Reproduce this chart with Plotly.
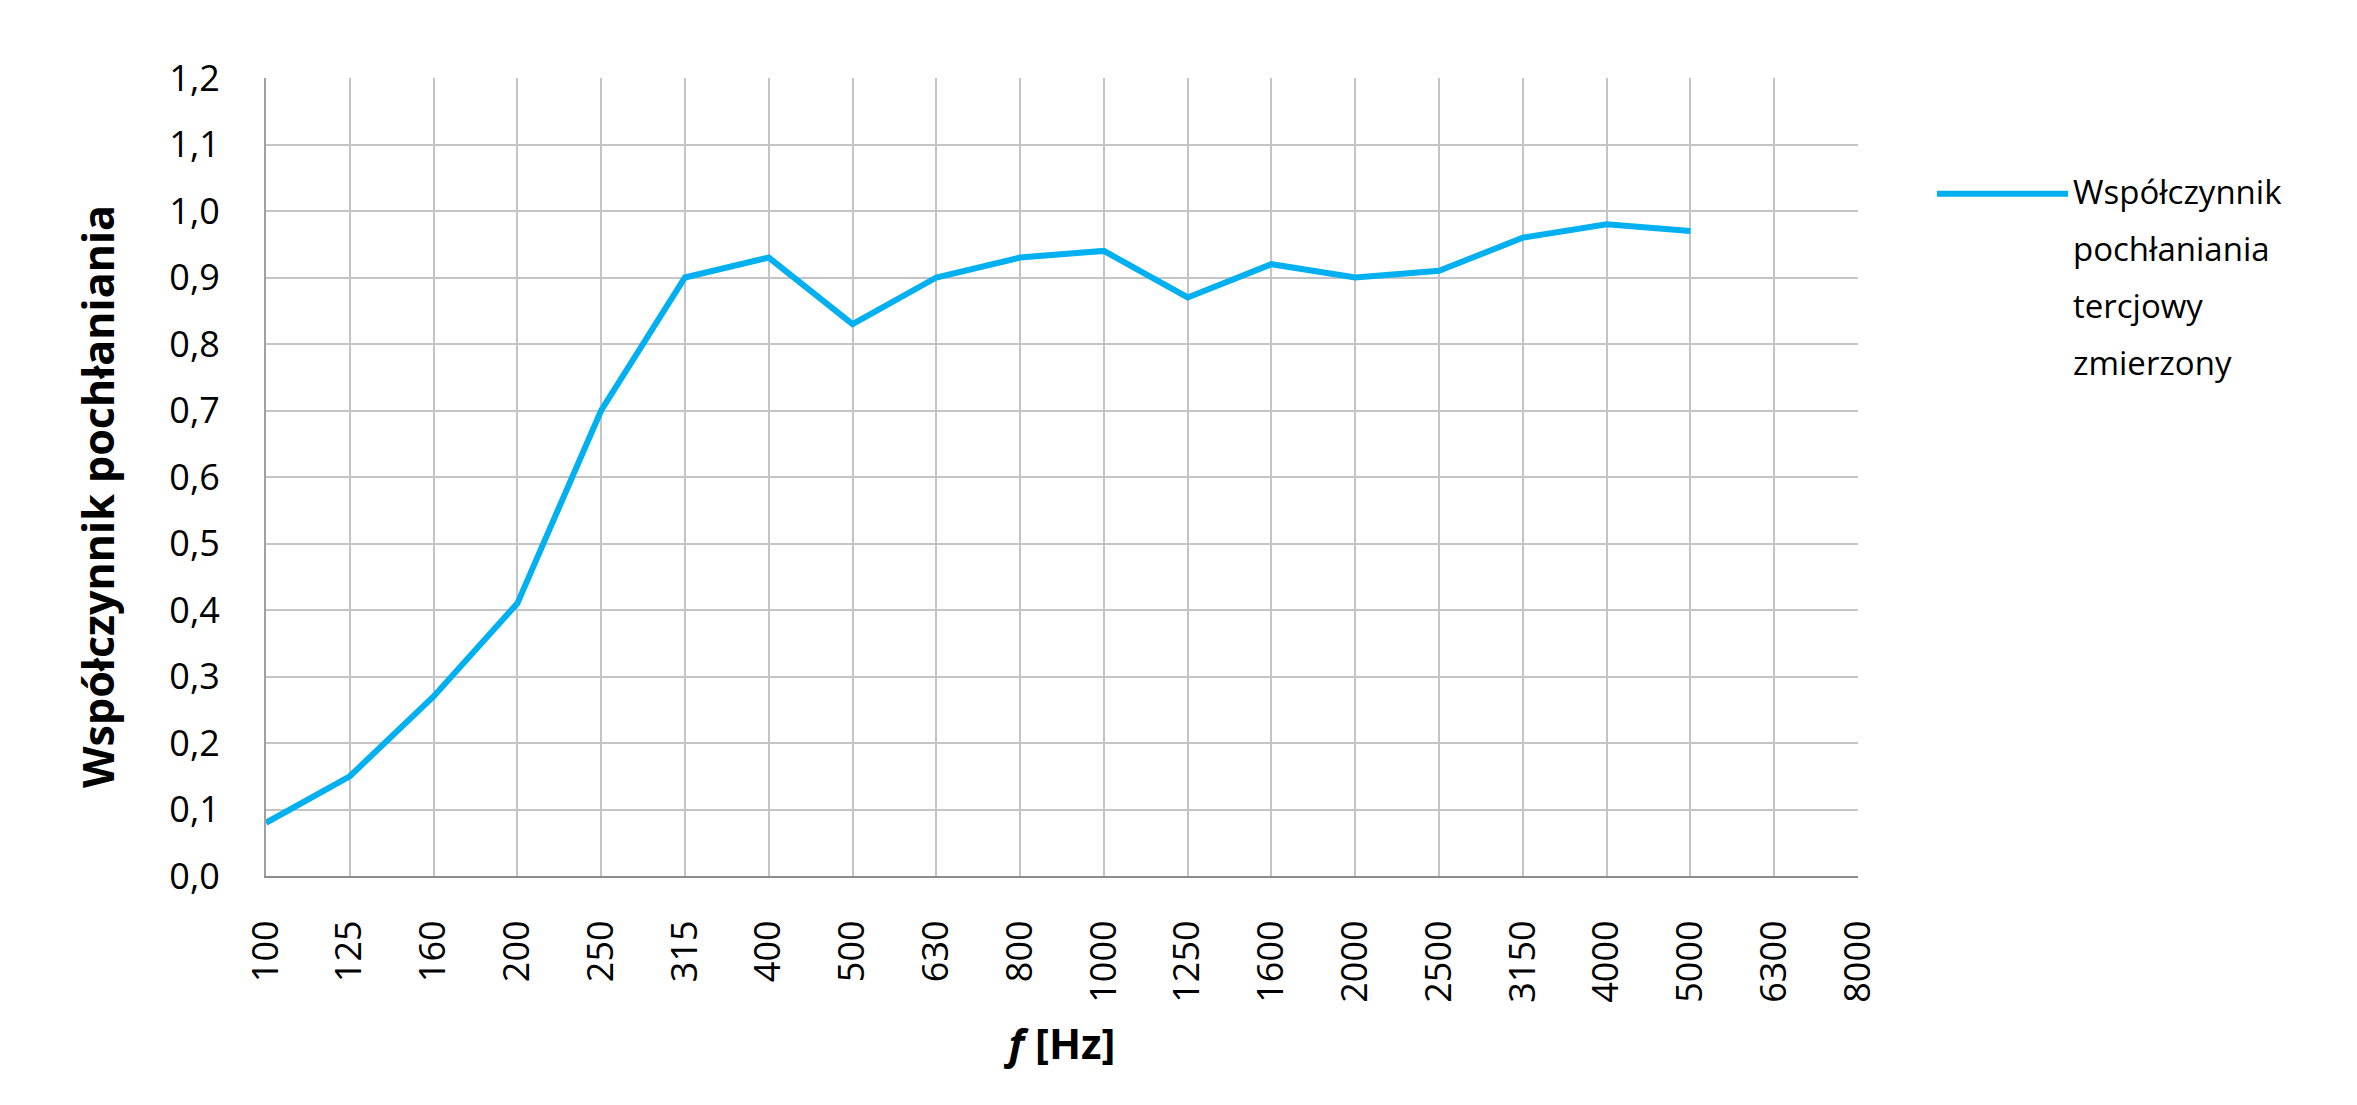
import plotly.graph_objects as go

freqs = ["100", "125", "160", "200", "250", "315", "400", "500", "630", "800",
         "1000", "1250", "1600", "2000", "2500", "3150", "4000", "5000", "6300", "8000"]
alpha = [0.08, 0.15, 0.27, 0.41, 0.70, 0.90, 0.93, 0.83, 0.90, 0.93,
         0.94, 0.87, 0.92, 0.90, 0.91, 0.96, 0.98, 0.97, None, None]
legend_lines = ["Współczynnik", "pochłaniania", "tercjowy", "zmierzony"]
y_title = "Współczynnik pochłaniania"
x_title = "<i>f</i> [Hz]"
y_ticks = [round(i * 0.1, 1) for i in range(13)]
y_ticktext = [f"{v:.1f}".replace(".", ",") for v in y_ticks]

FONT = "Open Sans"
LINE_COLOR = "#00B0F0"
TICK_SIZE = 36
fig = go.Figure()
fig.add_trace(go.Scatter(
    x=freqs, y=alpha, mode="lines", name=" ".join(legend_lines),
    line=dict(color=LINE_COLOR, width=6), connectgaps=False, showlegend=False,
))

# manual legend (Excel-style spacing), anchored to the right edge of the plot area
leg_y0 = 0.855
leg_dy = 0.0715
fig.add_shape(type="line", xref="paper", yref="paper",
              xsizemode="pixel", xanchor=1.0, x0=79, x1=210,
              y0=leg_y0, y1=leg_y0,
              line=dict(color=LINE_COLOR, width=6))
for i, txt in enumerate(legend_lines):
    fig.add_annotation(text=txt, xref="paper", yref="paper",
                       x=1.0, xshift=213, y=leg_y0 - i * leg_dy, yshift=2,
                       xanchor="left", yanchor="middle", showarrow=False,
                       font=dict(family=FONT, size=33, color="black"))

# y-axis title (Excel places it slightly below the plot centre)
fig.add_annotation(text=f"<b>{y_title}</b>", xref="paper", yref="paper",
                   x=0.0, xshift=-168, y=0.475, textangle=-90,
                   xanchor="center", yanchor="middle", showarrow=False,
                   font=dict(family=FONT, size=43, color="black"))

fig.update_layout(
    width=2357, height=1105,
    margin=dict(l=258, r=507, t=70, b=237),
    paper_bgcolor="white", plot_bgcolor="white",
    font=dict(family=FONT, size=TICK_SIZE, color="black"),
    showlegend=False,
    xaxis=dict(
        type="category", categoryorder="array", categoryarray=freqs,
        range=[0, len(freqs) - 1],
        showgrid=True, gridcolor="#C4C4C4", gridwidth=2,
        showline=True, linecolor="#8C8C8C", linewidth=2, mirror=False,
        tickangle=-90, ticklabelstandoff=28,
        tickfont=dict(family=FONT, size=TICK_SIZE),
        title=dict(text=f"<b>{x_title}</b>", font=dict(family=FONT, size=42), standoff=28),
        zeroline=False,
    ),
    yaxis=dict(
        range=[0, 1.2], tickvals=y_ticks, ticktext=y_ticktext,
        showgrid=True, gridcolor="#C4C4C4", gridwidth=2,
        showline=True, linecolor="#A0A0A0", linewidth=2,
        ticklabelstandoff=37,
        tickfont=dict(family=FONT, size=TICK_SIZE),
        zeroline=False,
    ),
)

fig.write_html("out.html")
